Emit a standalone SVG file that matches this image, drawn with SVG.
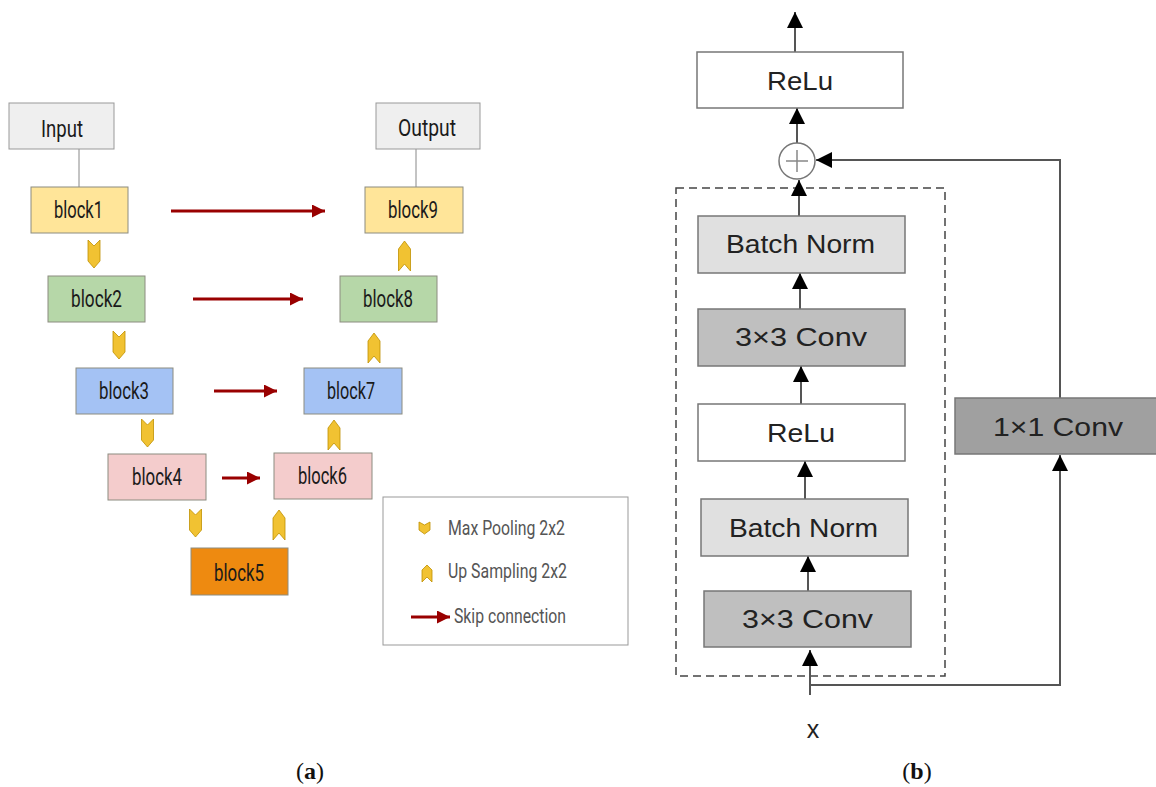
<svg xmlns="http://www.w3.org/2000/svg" xmlns:xlink="http://www.w3.org/1999/xlink" width="1156" height="787" viewBox="0 0 1156 787">
<style>
.io{fill:#efefef;stroke:#999;stroke-width:1}
.blk{stroke:#8c8c80;stroke-width:1}
.lt{font-family:Roboto,"Liberation Sans",sans-serif;font-size:23px;fill:#1a1a1a}
.lg{font-family:Roboto,"Liberation Sans",sans-serif;font-size:21px;fill:#555}
.skip{stroke:#990000;stroke-width:3;fill:none}
.chev{fill:#f1c232;stroke:#bf9000;stroke-width:0.8}
.rb{stroke:#777;stroke-width:1.5}
.rt{font-family:"Liberation Sans",Arial,sans-serif;font-size:26px;fill:#222;text-anchor:middle}
.con{stroke:#555;stroke-width:2;fill:none}
.cap{font-family:"Liberation Serif","Times New Roman",serif;font-size:24px;fill:#111}
</style>
<defs>
<marker id="redArrow" markerUnits="userSpaceOnUse" markerWidth="13" markerHeight="13" refX="10" refY="5" orient="auto" viewBox="0 0 10 10">
<path d="M0,0 L10,5 L0,10 Z" fill="#990000"/>
</marker>
<marker id="blkArrow" markerUnits="userSpaceOnUse" markerWidth="16" markerHeight="16" refX="10" refY="5" orient="auto" viewBox="0 0 10 10">
<path d="M0,0 L10,5 L0,10 Z" fill="#000"/>
</marker>
<path id="chevDown" class="chev" d="M-6,0 L0,6 L6,0 L6,21 L0,28 L-6,21 Z"/>
<path id="chevUp" class="chev" d="M-6,30 L0,23 L6,30 L6,8 L0,0 L-6,8 Z"/>
</defs>

<!-- Panel (a) -->
<g id="connectors-a">
<line x1="79" y1="149" x2="79" y2="187" stroke="#888" stroke-width="1"/>
<line x1="416" y1="149" x2="416" y2="187" stroke="#888" stroke-width="1"/>
<line class="skip" x1="171" y1="211" x2="325" y2="211" marker-end="url(#redArrow)"/>
<line class="skip" x1="193" y1="299" x2="303" y2="299" marker-end="url(#redArrow)"/>
<line class="skip" x1="214" y1="391" x2="277" y2="391" marker-end="url(#redArrow)"/>
<line class="skip" x1="222" y1="478" x2="260" y2="478" marker-end="url(#redArrow)"/>
<use xlink:href="#chevDown" transform="translate(94,240)"/>
<use xlink:href="#chevDown" transform="translate(119,331)"/>
<use xlink:href="#chevDown" transform="translate(147.5,419)"/>
<use xlink:href="#chevDown" transform="translate(195.5,509)"/>
<use xlink:href="#chevUp" transform="translate(279,510)"/>
<use xlink:href="#chevUp" transform="translate(334,420)"/>
<use xlink:href="#chevUp" transform="translate(374,333)"/>
<use xlink:href="#chevUp" transform="translate(404.5,241)"/>
</g>

<g id="input"><rect class="io" x="9" y="103" width="105" height="46"/><text class="lt" x="41" y="137" textLength="42" lengthAdjust="spacingAndGlyphs">Input</text></g>
<g id="output"><rect class="io" x="376" y="103" width="104" height="46"/><text class="lt" x="398" y="136" textLength="58" lengthAdjust="spacingAndGlyphs">Output</text></g>
<g id="block1"><rect class="blk" x="31" y="187" width="97" height="46" fill="#ffe599"/><text class="lt" x="54" y="218" textLength="49" lengthAdjust="spacingAndGlyphs">block1</text></g>
<g id="block2"><rect class="blk" x="48" y="276" width="97" height="46" fill="#b6d7a8"/><text class="lt" x="71" y="307" textLength="51" lengthAdjust="spacingAndGlyphs">block2</text></g>
<g id="block3"><rect class="blk" x="76" y="368" width="97" height="46" fill="#a4c2f4"/><text class="lt" x="99" y="399" textLength="50" lengthAdjust="spacingAndGlyphs">block3</text></g>
<g id="block4"><rect class="blk" x="108" y="454" width="98" height="46" fill="#f4cccc"/><text class="lt" x="132" y="485" textLength="50" lengthAdjust="spacingAndGlyphs">block4</text></g>
<g id="block5"><rect class="blk" x="191" y="548" width="97" height="47" fill="#ee8a10"/><text class="lt" x="214" y="581" textLength="50" lengthAdjust="spacingAndGlyphs">block5</text></g>
<g id="block6"><rect class="blk" x="274" y="453" width="98" height="46" fill="#f4cccc"/><text class="lt" x="298" y="484" textLength="49" lengthAdjust="spacingAndGlyphs">block6</text></g>
<g id="block7"><rect class="blk" x="304" y="368" width="98" height="46" fill="#a4c2f4"/><text class="lt" x="327" y="399" textLength="48" lengthAdjust="spacingAndGlyphs">block7</text></g>
<g id="block8"><rect class="blk" x="340" y="276" width="97" height="46" fill="#b6d7a8"/><text class="lt" x="363" y="307" textLength="50" lengthAdjust="spacingAndGlyphs">block8</text></g>
<g id="block9"><rect class="blk" x="365" y="187" width="98" height="46" fill="#ffe599"/><text class="lt" x="388" y="218" textLength="50" lengthAdjust="spacingAndGlyphs">block9</text></g>

<g id="legend">
<rect x="383" y="497" width="245" height="148" fill="#fff" stroke="#999" stroke-width="1"/>
<path class="chev" d="M419,522 L424.5,525 L430,522 L430,530 L424.5,534 L419,530 Z"/>
<text class="lg" x="448" y="535" textLength="117" lengthAdjust="spacingAndGlyphs">Max Pooling 2x2</text>
<path class="chev" d="M422,582 L427,577 L432,582 L432,570 L427,565 L422,570 Z"/>
<text class="lg" x="448" y="578" textLength="119" lengthAdjust="spacingAndGlyphs">Up Sampling 2x2</text>
<line class="skip" x1="411" y1="617" x2="450" y2="617" marker-end="url(#redArrow)"/>
<text class="lg" x="454" y="623" textLength="112" lengthAdjust="spacingAndGlyphs">Skip connection</text>
</g>

<!-- Panel (b) -->
<g id="connectors-b">
<rect x="676" y="188" width="269" height="488" fill="none" stroke="#444" stroke-width="1.5" stroke-dasharray="8,5"/>
<line class="con" x1="795" y1="52" x2="795" y2="12" marker-end="url(#blkArrow)"/>
<line class="con" x1="797" y1="143" x2="797" y2="108" marker-end="url(#blkArrow)"/>
<line class="con" x1="799" y1="216" x2="799" y2="180" marker-end="url(#blkArrow)"/>
<line class="con" x1="800" y1="309" x2="800" y2="273" marker-end="url(#blkArrow)"/>
<line class="con" x1="801" y1="404" x2="801" y2="366" marker-end="url(#blkArrow)"/>
<line class="con" x1="805" y1="499" x2="805" y2="461" marker-end="url(#blkArrow)"/>
<line class="con" x1="808" y1="591" x2="808" y2="556" marker-end="url(#blkArrow)"/>
<line class="con" x1="810" y1="695" x2="810" y2="650" marker-end="url(#blkArrow)"/>
<polyline class="con" points="810,685 1060,685 1060,455" marker-end="url(#blkArrow)"/>
<polyline class="con" points="1060,398 1060,160 816,160" marker-end="url(#blkArrow)"/>
</g>

<g id="add">
<circle cx="797" cy="161" r="18" fill="#fff" stroke="#777" stroke-width="1.5"/>
<path d="M786,161 H808 M797,150 V172" stroke="#888" stroke-width="1.5"/>
</g>
<g id="relu-out"><rect class="rb" x="697" y="52" width="206" height="56" fill="#fff"/><text class="rt" x="800" y="90" textLength="66" lengthAdjust="spacingAndGlyphs">ReLu</text></g>
<g id="bn2"><rect class="rb" x="698" y="216" width="207" height="57" fill="#e0e0e0"/><text class="rt" x="800.5" y="253" textLength="149" lengthAdjust="spacingAndGlyphs">Batch Norm</text></g>
<g id="conv2"><rect class="rb" x="698" y="309" width="207" height="57" fill="#bfbfbf"/><text class="rt" x="801" y="346" textLength="132" lengthAdjust="spacingAndGlyphs">3×3 Conv</text></g>
<g id="relu1"><rect class="rb" x="698" y="404" width="207" height="57" fill="#fff"/><text class="rt" x="801" y="442" textLength="68" lengthAdjust="spacingAndGlyphs">ReLu</text></g>
<g id="bn1"><rect class="rb" x="701" y="499" width="207" height="57" fill="#e0e0e0"/><text class="rt" x="803.5" y="537" textLength="149" lengthAdjust="spacingAndGlyphs">Batch Norm</text></g>
<g id="conv1"><rect class="rb" x="704" y="591" width="207" height="56" fill="#bfbfbf"/><text class="rt" x="807.5" y="628" textLength="131" lengthAdjust="spacingAndGlyphs">3×3 Conv</text></g>
<g id="conv1x1"><rect class="rb" x="955" y="398" width="205" height="56" fill="#a0a0a0"/><text class="rt" x="1058" y="436" textLength="130" lengthAdjust="spacingAndGlyphs">1×1 Conv</text></g>
<text x="813" y="738" font-family="'Liberation Sans',Arial,sans-serif" font-size="25" fill="#222" text-anchor="middle">x</text>

<text class="cap" x="310" y="779" text-anchor="middle">(<tspan font-weight="bold">a</tspan>)</text>
<text class="cap" x="917" y="779" text-anchor="middle">(<tspan font-weight="bold">b</tspan>)</text>
</svg>
